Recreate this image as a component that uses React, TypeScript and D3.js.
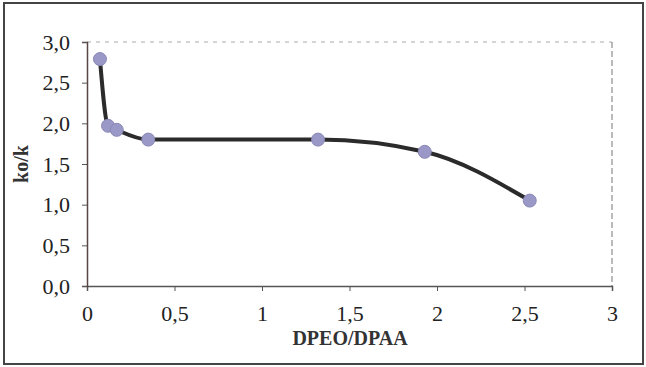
import { useEffect, useRef } from "react"
import * as d3 from "d3"

const ratio = [0.074, 0.12, 0.17, 0.35, 1.32, 1.93, 2.53]
const koK = [2.79, 1.97, 1.92, 1.8, 1.8, 1.65, 1.05]
const xTicks = [0, 0.5, 1, 1.5, 2, 2.5, 3]
const yTicks = [0, 0.5, 1, 1.5, 2, 2.5, 3]

const W = 646
const H = 367

export default function App() {
  const ref = useRef<SVGSVGElement>(null)

  useEffect(() => {
    const svg = d3.select(ref.current)
    svg.selectAll("*").remove()

    const m = { left: 87, right: 612, top: 42, bottom: 286 }
    const x = d3.scaleLinear().domain([0, 3]).range([m.left, m.right])
    const y = d3.scaleLinear().domain([0, 3]).range([m.bottom, m.top])
    const font = "Liberation Serif, Times New Roman, serif"
    const fmt = (v: number, dec: number) => v.toFixed(dec).replace(".", ",")

    // cadre extérieur
    svg.append("rect")
      .attr("x", 4).attr("y", 3).attr("width", W - 7).attr("height", H - 6)
      .attr("fill", "#fff").attr("stroke", "#444").attr("stroke-width", 2)

    // bord haut et droit en pointillés
    svg.append("path")
      .attr("d", `M${m.left},${m.top}H${m.right}`)
      .attr("fill", "none").attr("stroke", "#aaa").attr("stroke-width", 1)
      .attr("stroke-dasharray", "4,5")
    svg.append("path")
      .attr("d", `M${m.right},${m.top}V${m.bottom}`)
      .attr("fill", "none").attr("stroke", "#777").attr("stroke-width", 1)
      .attr("stroke-dasharray", "6,3")

    // axes
    const ax = svg.append("g").attr("transform", `translate(0,${m.bottom})`)
      .call(d3.axisBottom(x).tickValues(xTicks).tickSize(5).tickFormat((d) => {
        const v = +d
        return Number.isInteger(v) ? String(v) : fmt(v, 1)
      }))
    ax.select(".domain").attr("stroke", "#555").attr("stroke-width", 1.5)
    ax.selectAll(".tick line").attr("stroke", "#555")
    ax.selectAll("text").style("font-family", font).style("font-size", "22px")
      .attr("fill", "#222").attr("dy", "1.22em")

    const ay = svg.append("g").attr("transform", `translate(${m.left},0)`)
      .call(d3.axisLeft(y).tickValues(yTicks).tickSize(5).tickFormat((d) => fmt(+d, 1)))
    ay.select(".domain").attr("stroke", "#5a4545").attr("stroke-width", 1.5)
    ay.selectAll(".tick line").attr("stroke", "#555")
    ay.selectAll("text").style("font-family", font).style("font-size", "22px")
      .attr("fill", "#222").attr("x", -17)

    // titres
    svg.append("text")
      .attr("x", 350).attr("y", 345)
      .attr("text-anchor", "middle").style("font-family", font)
      .style("font-size", "20px").attr("font-weight", "bold").attr("fill", "#333")
      .text("DPEO/DPAA")
    svg.append("text")
      .attr("transform", `translate(28,${(m.top + m.bottom) / 2}) rotate(-90)`)
      .attr("text-anchor", "middle").style("font-family", font)
      .style("font-size", "20px").attr("font-weight", "bold").attr("fill", "#333")
      .text("ko/k")

    // courbe lissée
    const pts = ratio.map((r, i) => [r, koK[i]] as [number, number])
    const line = d3.line<[number, number]>()
      .x((d) => x(d[0])).y((d) => y(d[1]))
      .curve(d3.curveMonotoneX)
    svg.append("path")
      .datum(pts)
      .attr("d", line)
      .attr("fill", "none").attr("stroke", "#2b2b2b").attr("stroke-width", 4)

    svg.selectAll(".pt")
      .data(pts)
      .enter()
      .append("circle")
      .attr("class", "pt")
      .attr("cx", (d) => x(d[0])).attr("cy", (d) => y(d[1]))
      .attr("r", 6.5)
      .attr("fill", "#9a98c6").attr("stroke", "#8a88b6").attr("stroke-width", 1)
  }, [])

  return (
    <svg
      ref={ref}
      width={W}
      height={H}
      style={{ position: "absolute", left: 0, top: 0, background: "#fff" }}
    />
  )
}
